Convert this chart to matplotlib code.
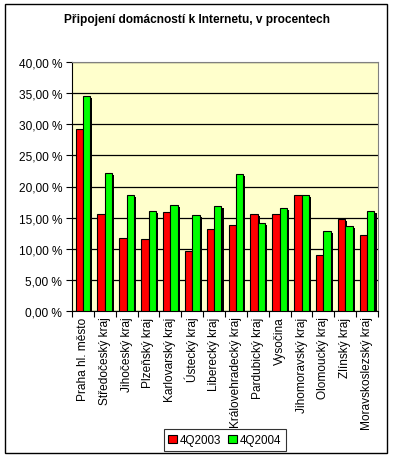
import matplotlib.pyplot as plt
import matplotlib.patheffects as pe
from matplotlib.patches import Rectangle
import numpy as np

plt.rcParams['font.family'] = ['Liberation Sans', 'DejaVu Sans']

regions = ['Praha hl. město', 'Středočeský kraj', 'Jihočeský kraj', 'Plzeňský kraj',
           'Karlovarský kraj', 'Ústecký kraj', 'Liberecký kraj', 'Královehradecký kraj',
           'Pardubický kraj', 'Vysočina', 'Jihomoravský kraj', 'Olomoucký kraj',
           'Zlínský kraj', 'Moravskoslezský kraj']
q2003 = [29.3, 15.6, 11.7, 11.6, 15.9, 9.6, 13.2, 13.8, 15.6, 15.6, 18.7, 9.0, 14.8, 12.2]
q2004 = [34.6, 22.2, 18.7, 16.1, 17.0, 15.4, 16.9, 22.0, 14.1, 16.6, 18.7, 12.9, 13.7, 16.1]
yticks = [0, 5, 10, 15, 20, 25, 30, 35, 40]

fig = plt.figure(figsize=(3.93, 4.60), dpi=100)
fig.patches.append(Rectangle((5 / 393, 6 / 460), 382 / 393, 449 / 460, transform=fig.transFigure,
                             fill=False, edgecolor='black', linewidth=1))
ax = fig.add_axes([72 / 393, 1 - 312 / 460, 306 / 393, 249 / 460])
ax.set_facecolor('#FFFFCC')

x = np.arange(len(regions))
w = 0.335
shadow = [pe.SimplePatchShadow(offset=(1.6, -1.6), shadow_rgbFace='black', alpha=1), pe.Normal()]
b1 = ax.bar(x - w / 2, q2003, w, color='#FF0000', edgecolor='black', linewidth=0.8, label='4Q2003', zorder=3)
b2 = ax.bar(x + w / 2, q2004, w, color='#00FF00', edgecolor='black', linewidth=0.8, label='4Q2004', zorder=3)
for b in list(b1) + list(b2):
    b.set_path_effects(shadow)

ax.set_xlim(-0.5, len(regions) - 0.5)
ax.set_ylim(0, 40)
ax.set_yticks(yticks)
ax.set_yticklabels(['%d,00 %%' % v for v in yticks], fontsize=8.6)
ax.yaxis.grid(True, color='black', linewidth=0.9, zorder=1)
ax.set_axisbelow(True)

ax.set_xticks(x)
ax.set_xticklabels(regions, rotation=90, fontsize=8.6, va='top')
ax.tick_params(axis='x', length=0, pad=4)
ax.set_xticks(np.arange(len(regions) + 1) - 0.5, minor=True)
ax.tick_params(axis='x', which='minor', length=4, width=0.8, direction='out')
ax.tick_params(axis='y', length=4, width=0.8, direction='out', pad=3)

for s in ['top', 'right']:
    ax.spines[s].set_color('#808080')
for s in ['left', 'bottom']:
    ax.spines[s].set_color('black')

fig.text(0.5, 1 - 20 / 460, 'Připojení domácností k Internetu, v procentech', ha='center', va='center',
         fontsize=8.6, fontweight='bold')

leg = fig.legend(handles=[b1, b2], loc='center', bbox_to_anchor=(225 / 393, 1 - 441 / 460), ncol=2,
                 fontsize=8.4, frameon=True, fancybox=False, edgecolor='black', handlelength=0.7,
                 handleheight=0.7, handletextpad=0.3, columnspacing=0.6, borderpad=0.4)
leg.get_frame().set_linewidth(0.8)
for h in leg.legend_handles:
    h.set_path_effects([])

fig.savefig('out.png', dpi=100)
